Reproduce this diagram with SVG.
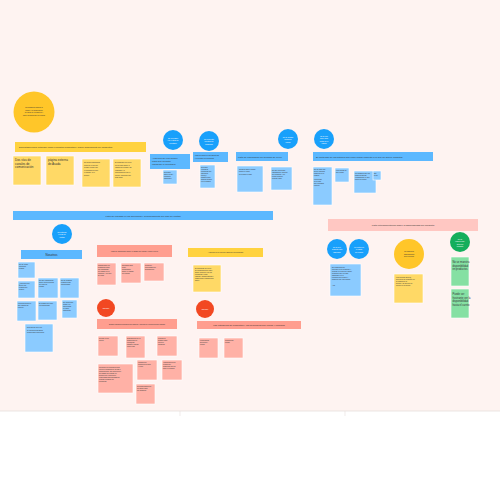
<svg xmlns="http://www.w3.org/2000/svg" width="500" height="500" viewBox="0 0 500 500">
<style>
text{font-family:"Liberation Sans",Arial,sans-serif;fill:#333}
.t{font-size:1.7px}
.b{font-size:2.4px}
.m{font-size:3px}
.yc{fill:#FFC629}
.yb{fill:#FFD23F}
.yn{fill:#FFD966;stroke:#fff;stroke-width:0.6}
.bc{fill:#18A0FB}
.bb{fill:#5CB8FF}
.bn{fill:#8BCBFF;stroke:#fff;stroke-width:0.6}
.sb{fill:#FF9E8F}
.sn{fill:#FFB1A6;stroke:#fff;stroke-width:0.6}
.pb{fill:#FFC7C2}
.rc{fill:#F24822}
.gc{fill:#14AE5C}
.gn{fill:#85E0A3;stroke:#fff;stroke-width:0.6}
.w{fill:#fff}
</style>
<rect width="500" height="500" fill="#fff"/>
<rect width="500" height="411" fill="#FEF3F1"/>
<line x1="0" y1="411" x2="500" y2="411" stroke="#E6DEDC" stroke-width="0.8"/>
<line x1="180" y1="411" x2="180" y2="416" stroke="#E6DEDC" stroke-width="0.6"/>
<line x1="345" y1="411" x2="345" y2="416" stroke="#E6DEDC" stroke-width="0.6"/>

<g id="connectors"></g>

<!-- Yellow cluster -->
<g id="y-circle"><circle class="yc" cx="34" cy="112" r="20.5"/>
<text class="t" text-anchor="middle"><tspan x="34" y="108">Necesitamos ampliar la</tspan><tspan x="34" y="110.5">gama y la visualización</tspan><tspan x="34" y="113">de stock de repartición y</tspan><tspan x="34" y="115.5">hacer seguimiento del pedido</tspan></text></g>
<g id="y-bar"><rect class="yb" x="15" y="142" width="131" height="10"/><text class="b" x="19" y="148">Dificultades para entender cómo encontrar productos y hacer seguimiento de incidentes</text></g>
<g id="y-n1"><rect class="yn" x="13" y="156" width="28" height="29"/><text class="m"><tspan x="15" y="161">Dos vías de</tspan><tspan x="15" y="164.5">canales de</tspan><tspan x="15" y="168">comunicación</tspan></text></g>
<g id="y-n2"><rect class="yn" x="46" y="156" width="28" height="29"/><text class="m"><tspan x="48" y="161">página externa</tspan><tspan x="48" y="164.5">de Asada</tspan></text></g>
<g id="y-n3"><rect class="yn" x="82" y="159" width="28" height="28"/><text class="t"><tspan x="84" y="163">No tengo información</tspan><tspan x="84" y="165.5">clara de lo que me</tspan><tspan x="84" y="168">llegará, puede que</tspan><tspan x="84" y="170.5">el producto no sea</tspan><tspan x="84" y="173">el mismo, ni el</tspan><tspan x="84" y="175.5">tiempo</tspan></text></g>
<g id="y-n4"><rect class="yn" x="113" y="159" width="28" height="28"/><text class="t"><tspan x="115" y="163">El formulario de envío</tspan><tspan x="115" y="165.5">no es claro sobre el</tspan><tspan x="115" y="168">estado del pedido, las</tspan><tspan x="115" y="170.5">entregas y la</tspan><tspan x="115" y="173">comunicación con el</tspan><tspan x="115" y="175.5">cliente, haciendo que</tspan><tspan x="115" y="178">todo tarde</tspan></text></g>

<!-- Blue top cluster -->
<g id="b-c1"><circle class="bc" cx="173" cy="140" r="10"/><text class="t w" text-anchor="middle" style="fill:#fff"><tspan x="173" y="138.5">No es posible</tspan><tspan x="173" y="141">ver el stock de</tspan><tspan x="173" y="143.5">inventario</tspan></text></g>
<g id="b-box1"><rect class="bb" x="150" y="154" width="40" height="15"/><text class="b"><tspan x="152" y="158.5">Ausencia de una opción</tspan><tspan x="152" y="161.5">clara que permita</tspan><tspan x="152" y="164.5">visualizar el inventario</tspan></text></g>
<g id="b-n1"><rect class="bn" x="163" y="170" width="14" height="14"/><text class="t"><tspan x="164" y="173">Necesito</tspan><tspan x="164" y="175">saber si hay</tspan><tspan x="164" y="177">producto</tspan><tspan x="164" y="179">disponible</tspan></text></g>
<g id="b-c2"><circle class="bc" cx="209" cy="141" r="10"/><text class="t" text-anchor="middle" style="fill:#fff"><tspan x="209" y="139.5">No encuentro</tspan><tspan x="209" y="142">los filtros de</tspan><tspan x="209" y="144.5">búsqueda</tspan></text></g>
<g id="b-box2"><rect class="bb" x="193" y="152" width="35" height="10"/><text class="t"><tspan x="195" y="156">Falta de filtros en las categorías</tspan><tspan x="195" y="158.5">e inventario de productos</tspan></text></g>
<g id="b-n2"><rect class="bn" x="200" y="165" width="15" height="23"/><text class="t"><tspan x="201" y="168">Necesito</tspan><tspan x="201" y="170">encontrar</tspan><tspan x="201" y="172">productos por</tspan><tspan x="201" y="174">categoría,</tspan><tspan x="201" y="176">precio y</tspan><tspan x="201" y="178">tamaño para</tspan><tspan x="201" y="180">ahorrar tiempo</tspan><tspan x="201" y="182">en la compra</tspan></text></g>
<g id="b-c3"><circle class="bc" cx="288" cy="139" r="10"/><text class="t" text-anchor="middle" style="fill:#fff"><tspan x="288" y="137.5">No sé cuándo</tspan><tspan x="288" y="140">llegará mi</tspan><tspan x="288" y="142.5">pedido</tspan></text></g>
<g id="b-box3"><rect class="bb" x="236" y="152" width="52" height="9"/><text class="b" x="238" y="157.5">Falta de información de tiempos de envío</text></g>
<g id="b-n3"><rect class="bn" x="237" y="166" width="26" height="26"/><text class="t"><tspan x="239" y="170">Quisiera saber cuánto</tspan><tspan x="239" y="172">tarda en llegar</tspan><tspan x="239" y="175">mi pedido a casa</tspan></text></g>
<g id="b-n4"><rect class="bn" x="271" y="167" width="21" height="23"/><text class="t"><tspan x="272" y="170.5">No hay una fecha</tspan><tspan x="272" y="172.5">estimada de entrega</tspan><tspan x="272" y="174.5">del producto y no</tspan><tspan x="272" y="176.5">puedo planear</tspan><tspan x="272" y="178.5">cuándo estar</tspan></text></g>
<g id="b-c4"><circle class="bc" cx="324" cy="139" r="10"/><text class="t" text-anchor="middle" style="fill:#fff"><tspan x="324" y="136.5">No sé qué</tspan><tspan x="324" y="139">hace cada</tspan><tspan x="324" y="141.5">botón de la</tspan><tspan x="324" y="144">página</tspan></text></g>
<g id="b-box4"><rect class="bb" x="313" y="152" width="120" height="9"/><text class="b" x="316" y="157.5">El contenido de los botones son poco claros respecto a lo que se quiere consultar</text></g>
<g id="b-n5"><rect class="bn" x="313" y="167" width="19" height="38"/><text class="t"><tspan x="314" y="170">No sé para qué</tspan><tspan x="314" y="172">sirven algunos</tspan><tspan x="314" y="174">botones en la</tspan><tspan x="314" y="176">página</tspan><tspan x="314" y="180">Los textos</tspan><tspan x="314" y="182">de ayuda</tspan><tspan x="314" y="184">son confusos</tspan><tspan x="314" y="186">para mí</tspan></text></g>
<g id="b-n6"><rect class="bn" x="335" y="168" width="14" height="14"/><text class="t"><tspan x="336" y="171">Los íconos no</tspan><tspan x="336" y="173">son claros</tspan></text></g>
<g id="b-n7"><rect class="bn" x="354" y="171" width="22" height="22"/><text class="t"><tspan x="355" y="174">Me gustaría que los</tspan><tspan x="355" y="176">botones dijeran</tspan><tspan x="355" y="178">exactamente lo que</tspan><tspan x="355" y="180">hacen al pulsar</tspan></text></g>
<g id="b-n8"><rect class="bn" x="373" y="171" width="8" height="9"/><text class="t"><tspan x="374" y="174">Sin</tspan><tspan x="374" y="176">texto</tspan></text></g>

<!-- Loyalty plan -->
<g id="loyal-bar"><rect class="bb" x="13" y="211" width="260" height="9"/><text class="b" x="143" y="216.5" text-anchor="middle">Falta de claridad en los beneficios y funcionamiento del plan de lealtad</text></g>
<g id="b-c5"><circle class="bc" cx="62" cy="234" r="10"/><text class="t" text-anchor="middle" style="fill:#fff"><tspan x="62" y="232.5">No entiendo</tspan><tspan x="62" y="235">el plan de</tspan><tspan x="62" y="237.5">lealtad</tspan></text></g>
<g id="nosotros"><rect class="bb" x="21" y="250" width="61" height="9"/><text x="51.5" y="255.8" text-anchor="middle" style="font-size:3px">Nosotros</text></g>
<g id="l-n1"><rect class="bn" x="18" y="262" width="17" height="16"/><text class="t"><tspan x="19" y="265">No sé cómo</tspan><tspan x="19" y="267">acumular</tspan><tspan x="19" y="269">puntos</tspan></text></g>
<g id="l-n2"><rect class="bn" x="18" y="281" width="17" height="17"/><text class="t"><tspan x="19" y="284">¿Para qué me</tspan><tspan x="19" y="286">sirven los</tspan><tspan x="19" y="288">puntos que</tspan><tspan x="19" y="290">tengo?</tspan></text></g>
<g id="l-n3"><rect class="bn" x="38" y="278" width="20" height="20"/><text class="t"><tspan x="39" y="281">No hay información</tspan><tspan x="39" y="283">sobre los beneficios</tspan><tspan x="39" y="285">del plan de</tspan><tspan x="39" y="287">lealtad</tspan></text></g>
<g id="l-n4"><rect class="bn" x="60" y="278" width="19" height="20"/><text class="t"><tspan x="61" y="281">No sé cuántos</tspan><tspan x="61" y="283">puntos tengo</tspan><tspan x="61" y="285">acumulados</tspan></text></g>
<g id="l-n5"><rect class="bn" x="17" y="301" width="19" height="20"/><text class="t"><tspan x="18" y="304">Los beneficios no</tspan><tspan x="18" y="306">son atractivos</tspan><tspan x="18" y="308">para mí</tspan></text></g>
<g id="l-n6"><rect class="bn" x="38" y="301" width="19" height="19"/><text class="t"><tspan x="39" y="304">El registro del plan</tspan><tspan x="39" y="306">es complicado</tspan></text></g>
<g id="l-n7"><rect class="bn" x="62" y="300" width="15" height="18"/><text class="t"><tspan x="63" y="303">No encuentro</tspan><tspan x="63" y="305">dónde ver</tspan><tspan x="63" y="307">mis puntos</tspan><tspan x="63" y="309">ni cómo</tspan><tspan x="63" y="311">canjearlos</tspan></text></g>
<g id="l-n8"><rect class="bn" x="25" y="324" width="28" height="28"/><text class="t"><tspan x="27" y="328">Nos dijeron que con</tspan><tspan x="27" y="330.5">la cuenta tendríamos</tspan><tspan x="27" y="333">descuentos especiales</tspan></text></g>

<!-- Salmon: order info -->
<g id="s-bar1"><rect class="sb" x="97" y="245" width="75" height="12"/><text class="t" x="134.5" y="251.5" text-anchor="middle">Falta de información sobre el estado del pedido y para el envío</text></g>
<g id="s-n1"><rect class="sn" x="97" y="263" width="19" height="22"/><text class="t"><tspan x="98" y="266">Clasificación de</tspan><tspan x="98" y="268">búsqueda entre</tspan><tspan x="98" y="270">los resultados</tspan><tspan x="98" y="272">de estado en la</tspan><tspan x="98" y="274">compra y vez que</tspan><tspan x="98" y="276">se pagó</tspan></text></g>
<g id="s-n2"><rect class="sn" x="121" y="263" width="20" height="20"/><text class="t"><tspan x="122" y="266">Dificultad para</tspan><tspan x="122" y="268">tener</tspan><tspan x="122" y="270">información</tspan><tspan x="122" y="272">sobre el estado</tspan><tspan x="122" y="274">del pedido</tspan></text></g>
<g id="s-n3"><rect class="sn" x="144" y="263" width="20" height="18"/><text class="t"><tspan x="145" y="266">Requiere</tspan><tspan x="145" y="268">mecanismo de</tspan><tspan x="145" y="270">seguimiento</tspan></text></g>

<!-- Yellow mid -->
<g id="y-bar2"><rect class="yb" x="188" y="248" width="75" height="9"/><text class="t" x="225.5" y="253.3" text-anchor="middle">Ausencia de un área de datos de los productos</text></g>
<g id="y-n5"><rect class="yn" x="193" y="265" width="28" height="27"/><text class="t"><tspan x="195" y="269">El contenido de envío</tspan><tspan x="195" y="271">se presenta poco claro</tspan><tspan x="195" y="273">sobre cómo se ven los</tspan><tspan x="195" y="275">productos, cómo</tspan><tspan x="195" y="277">usarlos, características y</tspan><tspan x="195" y="279">datos sobre calidad para</tspan><tspan x="195" y="281">saber</tspan></text></g>

<!-- Red circles and bars -->
<g id="r-c1"><circle class="rc" cx="106" cy="308" r="9"/><text class="t" x="106" y="308.8" text-anchor="middle" style="fill:#fff">Solución</text></g>
<g id="s-bar2"><rect class="sb" x="97" y="319" width="80" height="10"/><text class="t" x="137" y="324.6" text-anchor="middle">Existen múltiples opciones que agilizar y mejorar la experiencia del usuario</text></g>
<g id="s-n4"><rect class="sn" x="98" y="336" width="20" height="20"/><text class="t"><tspan x="99" y="339">Recibo en mi</tspan><tspan x="99" y="341">correo</tspan></text></g>
<g id="s-n5"><rect class="sn" x="126" y="336" width="19" height="22"/><text class="t"><tspan x="127" y="339">Seguimiento de la</tspan><tspan x="127" y="341">apariencia de</tspan><tspan x="127" y="343">productos</tspan><tspan x="127" y="345">tamaño, sonido</tspan><tspan x="127" y="347">como caja</tspan></text></g>
<g id="s-n6"><rect class="sn" x="157" y="336" width="20" height="20"/><text class="t"><tspan x="158" y="339">Mejorar la</tspan><tspan x="158" y="341">gestión para</tspan><tspan x="158" y="343">proveer</tspan><tspan x="158" y="345">consejos</tspan></text></g>
<g id="s-n7"><rect class="sn" x="98" y="364" width="35" height="29"/><text class="t"><tspan x="99" y="367.5">Creación de funciones para</tspan><tspan x="99" y="369.5">proveer consejos de ayuda e</tspan><tspan x="99" y="371.5">instrucciones, así como tener</tspan><tspan x="99" y="373.5">de estado de pedido en</tspan><tspan x="99" y="375.5">tiempo real, para tener</tspan><tspan x="99" y="377.5">respuestas aproximadas de</tspan><tspan x="99" y="379.5">cuándo llegarán los</tspan><tspan x="99" y="381.5">productos</tspan></text></g>
<g id="s-n8"><rect class="sn" x="137" y="360" width="20" height="20"/><text class="t"><tspan x="138" y="363">Filtrado por</tspan><tspan x="138" y="365">opciones de talla</tspan><tspan x="138" y="367">y color</tspan></text></g>
<g id="s-n9"><rect class="sn" x="162" y="360" width="20" height="20"/><text class="t"><tspan x="163" y="363">Visualización del</tspan><tspan x="163" y="365">pedido del</tspan><tspan x="163" y="367">momento que se</tspan><tspan x="163" y="369">hace la compra</tspan></text></g>
<g id="s-n10"><rect class="sn" x="136" y="384" width="19" height="20"/><text class="t"><tspan x="137" y="387">Recomendaciones</tspan><tspan x="137" y="389">del stock para</tspan><tspan x="137" y="391">los usuarios</tspan></text></g>

<g id="r-c2"><circle class="rc" cx="205" cy="309" r="9"/><text class="t" x="205" y="309.8" text-anchor="middle" style="fill:#fff">Solución</text></g>
<g id="s-bar3"><rect class="sb" x="197" y="321" width="104" height="8"/><text class="b" x="249" y="325.9" text-anchor="middle">Las categorías de productos y los formularios son claros y concisos</text></g>
<g id="s-n11"><rect class="sn" x="199" y="338" width="19" height="20"/><text class="t"><tspan x="200" y="341">Formularios</tspan><tspan x="200" y="343">sencillos y</tspan><tspan x="200" y="345">claros</tspan></text></g>
<g id="s-n12"><rect class="sn" x="224" y="338" width="19" height="20"/><text class="t"><tspan x="225" y="341">Categorías</tspan><tspan x="225" y="343">claras</tspan></text></g>

<!-- Availability cluster -->
<g id="p-bar"><rect class="pb" x="328" y="219" width="150" height="12"/><text class="b" x="403" y="225.8" text-anchor="middle">Falta retroalimentación sobre la disponibilidad del producto</text></g>
<g id="b-c6"><circle class="bc" cx="337" cy="249" r="10"/><text class="t" text-anchor="middle" style="fill:#fff"><tspan x="337" y="247.5">No sé si el</tspan><tspan x="337" y="250">producto está</tspan><tspan x="337" y="252.5">disponible</tspan></text></g>
<g id="b-c7"><circle class="bc" cx="359" cy="249" r="10"/><text class="t" text-anchor="middle" style="fill:#fff"><tspan x="359" y="247.5">Me entero en</tspan><tspan x="359" y="250">el carrito</tspan><tspan x="359" y="252.5">de compra</tspan></text></g>
<g id="b-n9"><rect class="bn" x="330" y="264" width="31" height="32"/><text class="t"><tspan x="332" y="268">En ocasiones me</tspan><tspan x="332" y="270">intereso en un producto y</tspan><tspan x="332" y="272">cuando a la hora de pagar</tspan><tspan x="332" y="274">descubro que no está</tspan><tspan x="332" y="276">disponible en el</tspan><tspan x="332" y="278">producto que deseo y</tspan><tspan x="332" y="280">tampoco hay uno similar</tspan><tspan x="332" y="286">Ana</tspan></text></g>
<g id="y-c2"><circle class="yc" cx="409" cy="254" r="15"/><text class="t" text-anchor="middle"><tspan x="409" y="252">No sabemos</tspan><tspan x="409" y="254.5">disponibilidad</tspan><tspan x="409" y="257">sino a tiempo</tspan></text></g>
<g id="y-n6"><rect class="yn" x="394" y="274" width="29" height="29"/><text class="t"><tspan x="396" y="278">Los clientes quieren</tspan><tspan x="396" y="280">que haya un rediseño en</tspan><tspan x="396" y="282">la página de la</tspan><tspan x="396" y="284">tienda y de servicio al</tspan><tspan x="396" y="286">cliente en la tienda</tspan></text></g>
<g id="g-c"><circle class="gc" cx="460" cy="242" r="10"/><text class="t" text-anchor="middle" style="fill:#fff"><tspan x="460" y="239.5">No se</tspan><tspan x="460" y="242">indica si hay</tspan><tspan x="460" y="244.5">stock del</tspan><tspan x="460" y="247">producto</tspan></text></g>
<g id="g-n1"><rect class="gn" x="451" y="257" width="18" height="29"/><text class="m" style="font-size:2.6px"><tspan x="452.5" y="263">No se muestra</tspan><tspan x="452.5" y="266.5">disponibilidad</tspan><tspan x="452.5" y="270">en productos</tspan></text></g>
<g id="g-n2"><rect class="gn" x="451" y="289" width="18" height="29"/><text class="m" style="font-size:2.6px"><tspan x="452.5" y="295">Puede ser</tspan><tspan x="452.5" y="298.5">frustrante ver la</tspan><tspan x="452.5" y="302">disponibilidad</tspan><tspan x="452.5" y="305.5">hasta el carrito</tspan></text></g>
</svg>
